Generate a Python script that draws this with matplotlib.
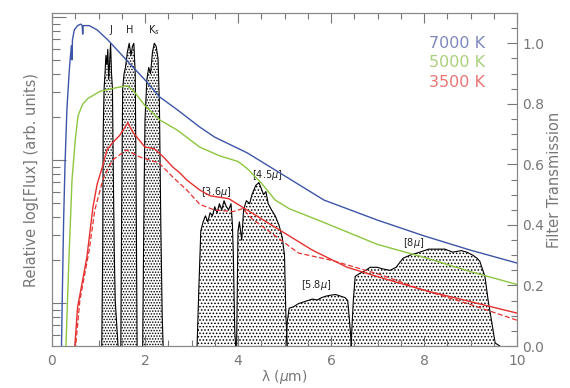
import numpy as np
import matplotlib
matplotlib.use("Agg")
import matplotlib.pyplot as plt
from matplotlib.ticker import MultipleLocator, LogLocator, NullFormatter

# ---------------- data ----------------
# spectra: wavelength (micron) and log10 relative flux
lam_7000 = [0.20, 0.22, 0.25, 0.28, 0.32, 0.37, 0.40, 0.42, 0.43, 0.44, 0.48, 0.55, 0.62, 0.65, 0.66, 0.67,
            0.70, 0.80, 0.97, 1.2, 1.4, 1.74, 2.0, 2.32, 2.7, 3.18, 3.5, 4.2, 5.85, 7.0, 8.0, 9.0, 10.0]
log_7000 = [-0.40, 0.02, 0.58, 0.97, 1.35, 1.62, 1.74, 1.80, 1.70, 1.84, 1.91, 1.94, 1.95, 1.94, 1.88, 1.94,
            1.94, 1.94, 1.91, 1.84, 1.77, 1.65, 1.56, 1.44, 1.35, 1.23, 1.16, 1.05, 0.72, 0.58, 0.47, 0.37, 0.28]

lam_5000 = [0.29, 0.30, 0.36, 0.43, 0.50, 0.56, 0.66, 0.77, 1.03, 1.3, 1.61, 1.74, 2.0, 2.32, 2.69, 3.18,
            3.6, 4.0, 4.2, 4.5, 4.8, 5.1, 5.8, 7.0, 8.0, 9.0, 10.0]
log_5000 = [-0.40, -0.30, 0.27, 0.86, 1.14, 1.31, 1.39, 1.43, 1.48, 1.50, 1.52, 1.49, 1.38, 1.28, 1.21, 1.09,
            1.03, 0.99, 0.94, 0.84, 0.72, 0.66, 0.57, 0.41, 0.32, 0.22, 0.13]

lam_3500 = [0.48, 0.55, 0.75, 0.88, 0.97, 1.1, 1.18, 1.3, 1.45, 1.63, 1.75, 2.0, 2.2, 2.4, 2.6, 2.75, 2.9,
            3.18, 3.4, 3.8, 4.2, 4.9, 5.6, 6.35, 7.05, 8.0, 9.0, 10.0]
log_3500 = [-0.35, -0.03, 0.32, 0.67, 0.83, 0.97, 1.07, 1.12, 1.17, 1.26, 1.19, 1.09, 1.08, 1.02, 0.95, 0.91, 0.86,
            0.79, 0.75, 0.73, 0.65, 0.51, 0.37, 0.25, 0.18, 0.09, 0.01, -0.07]

lam_3500d = [0.50, 0.60, 0.80, 0.92, 1.1, 1.3, 1.6, 1.9, 2.3, 2.6, 2.9, 3.18, 3.5, 3.9, 4.1, 4.3, 5.3, 6.0,
             7.05, 8.0, 9.0, 10.0]
log_3500d = [-0.33, 0.02, 0.37, 0.65, 0.87, 1.00, 1.07, 1.02, 0.98, 0.88, 0.79, 0.69, 0.65, 0.64, 0.66, 0.59,
             0.35, 0.30, 0.20, 0.09, -0.01, -0.12]

# filter transmission curves
lam_J = [1.07, 1.09, 1.10, 1.12, 1.14, 1.16, 1.18, 1.20, 1.22, 1.24, 1.26, 1.28, 1.30, 1.32, 1.34, 1.36, 1.38, 1.40, 1.42]
tr_J  = [0.0, 0.30, 0.70, 0.85, 0.90, 0.96, 0.93, 0.98, 0.88, 0.94, 1.00, 0.90, 0.85, 0.55, 0.30, 0.15, 0.10, 0.05, 0.0]

lam_H = [1.48, 1.50, 1.52, 1.55, 1.58, 1.62, 1.66, 1.70, 1.73, 1.76, 1.79, 1.81, 1.83]
tr_H  = [0.0, 0.50, 0.85, 0.90, 0.92, 0.97, 1.00, 0.96, 0.99, 1.00, 0.90, 0.50, 0.0]

lam_K = [1.95, 1.98, 2.00, 2.04, 2.08, 2.12, 2.16, 2.20, 2.24, 2.28, 2.31, 2.34, 2.37, 2.39]
tr_K  = [0.0, 0.50, 0.75, 0.88, 0.92, 0.90, 0.97, 1.00, 0.99, 0.95, 0.80, 0.40, 0.10, 0.0]

lam_36 = [3.12, 3.16, 3.20, 3.25, 3.30, 3.35, 3.40, 3.45, 3.50, 3.55, 3.60, 3.65, 3.70, 3.75, 3.80, 3.85, 3.88, 3.90, 3.93, 3.95]
tr_36  = [0.0, 0.20, 0.38, 0.41, 0.43, 0.41, 0.44, 0.43, 0.46, 0.44, 0.47, 0.45, 0.48, 0.46, 0.45, 0.47, 0.40, 0.30, 0.05, 0.0]

lam_45 = [3.97, 4.00, 4.03, 4.08, 4.12, 4.18, 4.25, 4.30, 4.38, 4.45, 4.50, 4.55, 4.60, 4.65, 4.72, 4.80, 4.88, 4.95, 5.00, 5.03, 5.06]
tr_45  = [0.0, 0.38, 0.41, 0.35, 0.45, 0.48, 0.47, 0.50, 0.53, 0.54, 0.52, 0.50, 0.51, 0.47, 0.45, 0.43, 0.40, 0.36, 0.30, 0.10, 0.0]

lam_58 = [5.03, 5.06, 5.10, 5.20, 5.30, 5.40, 5.50, 5.60, 5.70, 5.80, 5.90, 6.00, 6.10, 6.20, 6.30, 6.36, 6.40, 6.44]
tr_58  = [0.0, 0.08, 0.125, 0.13, 0.14, 0.145, 0.15, 0.155, 0.152, 0.16, 0.165, 0.168, 0.17, 0.165, 0.16, 0.15, 0.08, 0.0]

lam_80 = [6.43, 6.48, 6.52, 6.62, 6.75, 6.84, 7.00, 7.10, 7.27, 7.40, 7.55, 7.70, 7.91, 8.10, 8.28, 8.45,
          8.62, 8.80, 8.92, 9.05, 9.14, 9.20, 9.31, 9.38, 9.46, 9.53, 9.63]
tr_80  = [0.0, 0.15, 0.23, 0.24, 0.25, 0.26, 0.26, 0.255, 0.25, 0.26, 0.29, 0.30, 0.31, 0.32, 0.32, 0.32,
          0.31, 0.315, 0.31, 0.30, 0.29, 0.28, 0.23, 0.15, 0.076, 0.01, 0.0]

legend_labels = ["7000 K", "5000 K", "3500 K"]
filter_labels = ["J", "H", "K$_s$", "[3.6$\\mu$]", "[4.5$\\mu$]", "[5.8$\\mu$]", "[8$\\mu$]"]

# ---------------- styling ----------------
c_blue, c_green, c_red = "#3d55a8", "#8dc63f", "#e5312f"
t_blue, t_green, t_red = "#7f88bd", "#a9cf7b", "#ea7474"
gray = "#777777"
plt.rcParams["font.family"] = ["DejaVu Sans"]
plt.rcParams["hatch.linewidth"] = 0.7

fig = plt.figure(figsize=(5.70, 3.88), dpi=100)
ax = fig.add_axes([52/570, 1-346/388, (517-52)/570, (346-13)/388])
ax2 = ax.twinx()

# filters on linear right axis
filters = [(lam_J, tr_J), (lam_H, tr_H), (lam_K, tr_K), (lam_36, tr_36),
           (lam_45, tr_45), (lam_58, tr_58), (lam_80, tr_80)]
for i, (lam, tr) in enumerate(filters):
    ax2.fill_between(lam, 0, tr, facecolor="none", edgecolor="black",
                     hatch="......" if i < 3 else ".....", linewidth=0)
    ax2.plot(lam, tr, color="black", lw=0.8)
ax2.set_ylim(0, 1.10)
ax2.set_xlim(0, 10)

# spectra on the log left axis
ax.set_zorder(ax2.get_zorder() + 1)
ax.patch.set_visible(False)
ax.semilogy(lam_7000, 10**np.array(log_7000), color=c_blue, lw=1.0)
ax.semilogy(lam_5000, 10**np.array(log_5000), color=c_green, lw=1.0)
ax.semilogy(lam_3500, 10**np.array(log_3500), color=c_red, lw=1.0)
ax.semilogy(lam_3500d, 10**np.array(log_3500d), color=c_red, lw=0.9, ls=(0, (4, 2)))
ax.set_xlim(0, 10)
ax.set_ylim(10**-0.30, 10**2.028)

# ticks
ax.xaxis.set_major_locator(MultipleLocator(2))
ax.xaxis.set_minor_locator(MultipleLocator(0.5))
ax.yaxis.set_major_locator(LogLocator(base=10, numticks=10))
ax.yaxis.set_minor_locator(LogLocator(base=10, subs=np.arange(2, 10), numticks=20))
ax.yaxis.set_major_formatter(NullFormatter())
ax.yaxis.set_minor_formatter(NullFormatter())
ax.tick_params(axis="x", which="both", direction="in", top=True, colors=gray, labelsize=10, pad=6)
ax.tick_params(axis="x", which="major", length=7, width=0.8)
ax.tick_params(axis="x", which="minor", length=4, width=0.8)
ax.tick_params(axis="y", which="major", direction="in", length=10, width=0.8, colors=gray, right=False)
ax.tick_params(axis="y", which="minor", direction="in", length=6, width=0.8, colors=gray, right=False)
ax2.yaxis.set_major_locator(MultipleLocator(0.2))
ax2.yaxis.set_minor_locator(MultipleLocator(0.05))
ax2.yaxis.set_major_formatter(plt.FuncFormatter(lambda v, p: f"{v:.1f}"))
ax2.tick_params(axis="y", which="both", direction="in", colors=gray, labelsize=10, left=False)
ax2.tick_params(axis="y", which="major", length=7, width=0.8, pad=4)
ax2.tick_params(axis="y", which="minor", length=4, width=0.8)
for a in (ax, ax2):
    for s in a.spines.values():
        s.set_color("#888888")
        s.set_linewidth(0.8)

ax.set_xlabel("λ ($\\mu$m)", color=gray, fontsize=10, labelpad=0)
ax.set_ylabel("Relative log[Flux] (arb. units)", color=gray, fontsize=10.5, labelpad=6)
ax2.set_ylabel("Filter Transmission", color=gray, fontsize=10.5, labelpad=2)

# legend texts
for lab, col, yy in zip(legend_labels, [t_blue, t_green, t_red], [1.0, 0.935, 0.87]):
    ax2.text(9.32, yy, lab, color=col, fontsize=11.5, ha="right", va="center")

# filter labels
lab_pos = [(1.27, 1.045), (1.67, 1.045), (2.20, 1.045), (3.53, 0.51), (4.62, 0.565), (5.68, 0.20), (7.77, 0.34)]
for lab, (xx, yy) in zip(filter_labels, lab_pos):
    ax2.text(xx, yy, lab, color="#222222", fontsize=7, ha="center", va="center")

fig.savefig("out.png", dpi=100)
